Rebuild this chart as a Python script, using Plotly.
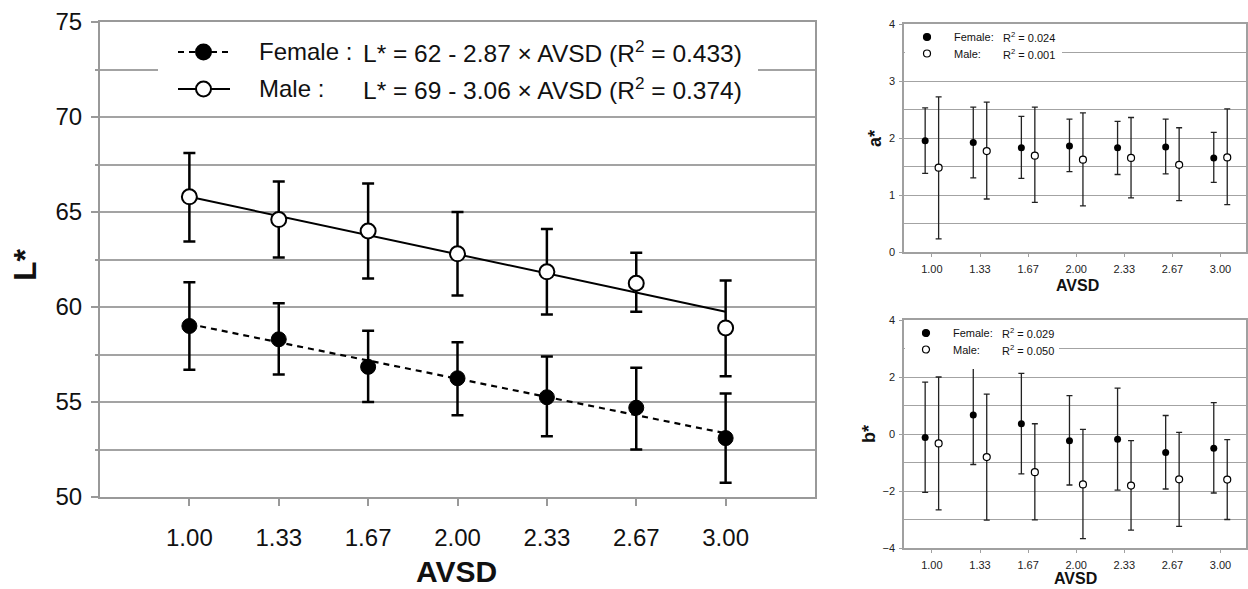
import plotly.graph_objects as go

# ---------------- data ----------------
avsd_labels = ["1.00", "1.33", "1.67", "2.00", "2.33", "2.67", "3.00"]

# Main panel: L*
L_female = [59.0, 58.3, 56.85, 56.25, 55.25, 54.7, 53.1]
L_female_hi = [61.3, 60.2, 58.75, 58.15, 57.4, 56.8, 55.45]
L_female_lo = [56.7, 56.45, 55.0, 54.3, 53.2, 52.5, 50.75]
L_male = [65.8, 64.6, 64.0, 62.8, 61.85, 61.25, 58.9]
L_male_hi = [68.1, 66.6, 66.5, 65.0, 64.1, 62.85, 61.4]
L_male_lo = [63.45, 62.6, 61.5, 60.6, 59.6, 59.75, 56.35]
# regression line end points (at AVSD 1.00 and 3.00)
L_female_trend = [59.1, 53.35]
L_male_trend = [65.8, 59.75]

# a* panel
a_female = [1.95, 1.92, 1.83, 1.86, 1.83, 1.84, 1.65]
a_female_hi = [2.53, 2.54, 2.38, 2.33, 2.29, 2.33, 2.10]
a_female_lo = [1.38, 1.30, 1.29, 1.41, 1.36, 1.37, 1.22]
a_male = [1.48, 1.77, 1.69, 1.62, 1.65, 1.53, 1.66]
a_male_hi = [2.72, 2.63, 2.54, 2.44, 2.36, 2.18, 2.51]
a_male_lo = [0.23, 0.93, 0.87, 0.81, 0.95, 0.90, 0.83]

# b* panel
b_female = [-0.12, 0.67, 0.36, -0.24, -0.18, -0.65, -0.50]
b_female_hi = [1.82, 2.45, 2.13, 1.35, 1.61, 0.65, 1.10]
b_female_lo = [-2.05, -1.07, -1.40, -1.79, -1.97, -1.93, -2.07]
b_male = [-0.33, -0.81, -1.34, -1.77, -1.81, -1.59, -1.60]
b_male_hi = [2.0, 1.40, 0.36, 0.16, -0.23, 0.06, -0.20]
b_male_lo = [-2.66, -3.02, -3.01, -3.67, -3.37, -3.24, -3.00]

# ---------------- geometry helpers ----------------
W, H = 1248, 589
def px(x):
    return x / W
def py(y):
    return 1 - y / H

FONT = "Liberation Sans, Arial, sans-serif"
GRID = "#a3a3a3"

fig = go.Figure()

def err(c, hi, lo):
    return dict(type="data", symmetric=False,
                array=[h - v for h, v in zip(hi, c)],
                arrayminus=[v - l for v, l in zip(c, lo)])

# ---- main panel ----
fig.add_trace(go.Scatter(x=[avsd_labels[0], avsd_labels[-1]], y=L_male_trend, mode="lines",
                         line=dict(color="black", width=2), xaxis="x", yaxis="y", showlegend=False))
fig.add_trace(go.Scatter(x=[avsd_labels[0], avsd_labels[-1]], y=L_female_trend, mode="lines",
                         line=dict(color="black", width=2.2, dash="6px,5px"), xaxis="x", yaxis="y",
                         showlegend=False))
e = err(L_male, L_male_hi, L_male_lo)
e.update(color="black", thickness=2.5, width=6)
fig.add_trace(go.Scatter(x=avsd_labels, y=L_male, mode="markers", error_y=e,
                         marker=dict(size=15, color="white", line=dict(color="black", width=2)),
                         xaxis="x", yaxis="y", showlegend=False))
e = err(L_female, L_female_hi, L_female_lo)
e.update(color="black", thickness=2.5, width=6)
fig.add_trace(go.Scatter(x=avsd_labels, y=L_female, mode="markers", error_y=e,
                         marker=dict(size=15, color="black", line=dict(color="black", width=1)),
                         xaxis="x", yaxis="y", showlegend=False))

# ---- small panels ----
idx = list(range(len(avsd_labels)))
off = 0.14
for (fv, fh, fl, mv, mh, ml, xa, ya) in [
    (a_female, a_female_hi, a_female_lo, a_male, a_male_hi, a_male_lo, "x2", "y2"),
    (b_female, b_female_hi, b_female_lo, b_male, b_male_hi, b_male_lo, "x3", "y3"),
]:
    e = err(fv, fh, fl)
    e.update(color="#222", thickness=1.3, width=3)
    fig.add_trace(go.Scatter(x=[i - off for i in idx], y=fv, mode="markers", error_y=e,
                             marker=dict(size=7, color="black"), xaxis=xa, yaxis=ya,
                             showlegend=False))
    e = err(mv, mh, ml)
    e.update(color="#222", thickness=1.3, width=3)
    fig.add_trace(go.Scatter(x=[i + off for i in idx], y=mv, mode="markers", error_y=e,
                             marker=dict(size=7, color="white", line=dict(color="black", width=1.2)),
                             xaxis=xa, yaxis=ya, showlegend=False))

# ---------------- axes ----------------
main_x = dict(domain=[px(100), px(815)], type="category", categoryorder="array",
              categoryarray=avsd_labels, range=[-1, 7], showgrid=False,
              showline=True, linecolor="#999", linewidth=2, mirror=True,
              ticks="outside", ticklen=7, tickwidth=2, tickcolor="#999",
              tickfont=dict(family=FONT, size=24, color="#111"), ticklabelstandoff=11,
              anchor="y", zeroline=False, automargin=False)
main_y = dict(domain=[py(497), py(22)], range=[50, 75], tick0=50, dtick=5,
              showgrid=True, gridcolor=GRID, gridwidth=2,
              minor=dict(dtick=2.5, showgrid=True, gridcolor=GRID, gridwidth=2,
                         ticks="outside", ticklen=3, tickcolor="#999", tickwidth=2),
              showline=True, linecolor="#999", linewidth=2, mirror=True,
              ticks="outside", ticklen=7, tickwidth=2, tickcolor="#999",
              tickfont=dict(family=FONT, size=24, color="#111"), ticklabelstandoff=4,
              anchor="x", zeroline=False, automargin=False)

def small_x(dom_y_anchor):
    return dict(domain=[px(904), px(1246)], range=[-0.58, 6.53], tickvals=idx,
                ticktext=avsd_labels, showgrid=False, showline=True, linecolor="#a0a0a0",
                linewidth=1.5, mirror=True, ticks="outside", ticklen=3, tickcolor="#a0a0a0",
                tickfont=dict(family=FONT, size=11, color="#222"), anchor=dom_y_anchor,
                zeroline=False, ticklabelstandoff=3, automargin=False)

def small_y(top, bottom, rng, dt, mdt, anchor):
    return dict(domain=[py(bottom), py(top)], range=rng, dtick=dt, tick0=rng[0],
                showgrid=True, gridcolor=GRID, gridwidth=1.3,
                minor=dict(dtick=mdt, showgrid=True, gridcolor=GRID, gridwidth=1.3),
                showline=True, linecolor="#a0a0a0", linewidth=1.5, mirror=True,
                ticks="outside", ticklen=3, tickcolor="#a0a0a0",
                tickfont=dict(family=FONT, size=11, color="#222"), anchor=anchor,
                zeroline=False, ticklabelstandoff=2, automargin=False)

fig.update_layout(
    width=W, height=H, margin=dict(l=0, r=0, t=0, b=0, autoexpand=False),
    paper_bgcolor="white", plot_bgcolor="white",
    xaxis=main_x, yaxis=main_y,
    xaxis2=small_x("y2"), yaxis2=small_y(24, 252, [0, 4], 1, 0.5, "x2"),
    xaxis3=small_x("y3"), yaxis3=small_y(320, 548, [-4, 4], 2, 1, "x3"),
    showlegend=False,
)

shapes = []
annotations = []

# ---- main legend box & entries ----
shapes.append(dict(type="rect", xref="paper", yref="paper", x0=px(158), x1=px(758),
                   y0=py(113), y1=py(25), fillcolor="white", line=dict(width=0), layer="above"))
for yy, dash, fill in [(52, "6px,5px", "black"), (89, "solid", "white")]:
    shapes.append(dict(type="line", xref="paper", yref="paper", x0=px(178), x1=px(230),
                       y0=py(yy), y1=py(yy), line=dict(color="black", width=2.2, dash=dash),
                       layer="above"))
    shapes.append(dict(type="circle", xref="paper", yref="paper", xsizemode="pixel",
                       ysizemode="pixel", xanchor=px(203.5), yanchor=py(yy),
                       x0=-7.5, x1=7.5, y0=-7.5, y1=7.5, fillcolor=fill,
                       line=dict(color="black", width=2), layer="above"))

def txt(x, y, s, size, xanchor="left", angle=0):
    annotations.append(dict(x=px(x), y=py(y), xref="paper", yref="paper", text=s,
                            showarrow=False, xanchor=xanchor, yanchor="middle",
                            textangle=angle,
                            font=dict(family=FONT, size=size, color="#111")))

txt(257, 52, "Female :", 24)
txt(361, 52, "L* = 62 - 2.87 × AVSD (R<sup>2</sup> = 0.433)", 24.5)
txt(257, 89, "Male :", 24)
txt(361, 89, "L* = 69 - 3.06 × AVSD (R<sup>2</sup> = 0.374)", 24.5)

txt(25, 265, "<b>L*</b>", 32, xanchor="center", angle=-90)
txt(457, 571, "<b>AVSD</b>", 30, xanchor="center")

# ---- small panel legends ----
for (ytop, cover_y0, cover_y1, cover_x1, r2f, r2m, mx) in [
    (37, 27, 62, 1062, "0.024", "0.001", 927),
    (333, 323, 369, 1059, "0.029", "0.050", 926),
]:
    shapes.append(dict(type="rect", xref="paper", yref="paper", x0=px(905), x1=px(cover_x1),
                       y0=py(cover_y1), y1=py(cover_y0), fillcolor="white", line=dict(width=0),
                       layer="above"))
    for k, fill in enumerate(["black", "white"]):
        yy = ytop + k * 16.5
        shapes.append(dict(type="circle", xref="paper", yref="paper", xsizemode="pixel",
                           ysizemode="pixel", xanchor=px(mx), yanchor=py(yy),
                           x0=-3.5, x1=3.5, y0=-3.5, y1=3.5, fillcolor=fill,
                           line=dict(color="black", width=1.2), layer="above"))
    txt(mx + 25, ytop, "Female:", 11)
    txt(mx + 74, ytop, "R<sup>2</sup> = " + r2f, 11)
    txt(mx + 25, ytop + 16.5, "Male:", 11)
    txt(mx + 74, ytop + 16.5, "R<sup>2</sup> = " + r2m, 11)

txt(875, 138, "<b>a*</b>", 18, xanchor="center", angle=-90)
txt(1077, 286, "<b>AVSD</b>", 16, xanchor="center")
txt(869, 434, "<b>b*</b>", 18, xanchor="center", angle=-90)
txt(1075, 578, "<b>AVSD</b>", 16, xanchor="center")

fig.update_layout(shapes=shapes, annotations=annotations)
fig.write_html("out.html", config={"displayModeBar": False},
               post_script="document.body.style.margin='0';document.body.style.overflow='hidden';")
